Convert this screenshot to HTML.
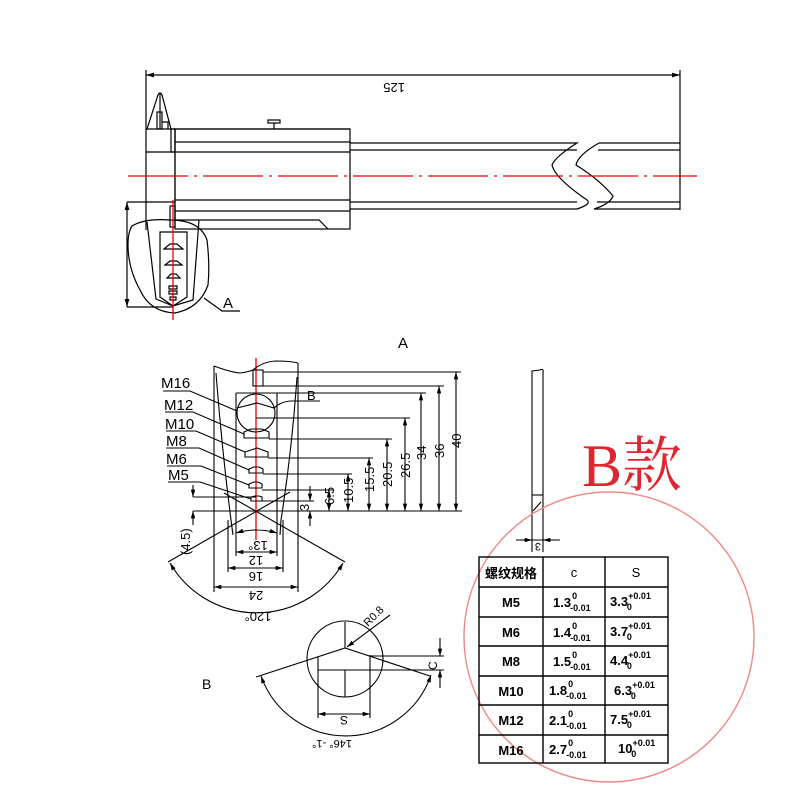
<!DOCTYPE html>
<html><head><meta charset="utf-8"><style>
html,body{margin:0;padding:0;background:#fff;width:800px;height:800px;overflow:hidden}
svg{display:block}
text{font-family:"Liberation Sans","Noto Sans CJK SC",sans-serif;fill:#000}
</style></head><body>
<svg width="800" height="800" viewBox="0 0 800 800" xmlns="http://www.w3.org/2000/svg">
<defs>
<marker id="ar" viewBox="0 0 10 6" refX="10" refY="3" markerWidth="8" markerHeight="4" orient="auto-start-reverse"><path d="M0,0L10,3L0,6z" fill="#000"/></marker>
</defs>
<g stroke="#000" stroke-width="1.2" fill="none">
<line x1="146" y1="75" x2="680" y2="75" marker-start="url(#ar)" marker-end="url(#ar)"/>
<line x1="146" y1="70" x2="146" y2="230"/>
<line x1="680" y1="70" x2="680" y2="210"/>
<path d="M147,129 L158,95 Q160,91 162,95 L171,129"/>
<line x1="160" y1="93" x2="160" y2="129"/>
<rect x="157" y="112" width="5" height="17"/>
<path d="M162,122 L168,122 L168,129"/>
<rect x="171" y="129" width="4" height="23"/>
<line x1="146" y1="129" x2="350" y2="129"/>
<line x1="146" y1="152" x2="175" y2="152"/>
<line x1="175" y1="129" x2="175" y2="220"/>
<rect x="175" y="129" width="175" height="100" fill="none"/>
<line x1="175" y1="142" x2="350" y2="142"/>
<line x1="175" y1="152" x2="350" y2="152"/>
<line x1="175" y1="200" x2="350" y2="200"/>
<line x1="175" y1="211" x2="350" y2="211"/>
<path d="M175,220 L319,220 L328,229"/>
<rect x="268" y="120" width="12" height="3"/>
<line x1="274" y1="123" x2="274" y2="129"/>
<path d="M350,143 L577,143 Q555,157 552,165 Q555,178 587,200 Q592,204 577,209 L350,209"/>
<line x1="350" y1="150" x2="577" y2="150"/>
<line x1="350" y1="202" x2="577" y2="202"/>
<path d="M599,143 L680,143 M680,209 L594,209 Q610,204 613,196 Q600,180 576,165 Q578,155 599,143"/>
<line x1="598" y1="150" x2="680" y2="150"/>
<line x1="597" y1="202" x2="680" y2="202"/>
<rect x="170" y="206" width="5" height="21"/>
<line x1="127" y1="202" x2="175" y2="202"/>
<line x1="127" y1="307" x2="173" y2="307"/>
<line x1="127" y1="202" x2="127" y2="307" marker-start="url(#ar)" marker-end="url(#ar)"/>
<path d="M147,222 L156,299 L173,306 L193,300 L199,220"/>
<path d="M160,232 L187,232 L187,297 L173,306 L160,297 Z"/>
<path d="M132,226 Q145,218 170,220 Q200,220 207,240 Q210,265 208,285 Q200,308 175,313 Q150,312 140,290 Q128,268 128,245 Q128,232 132,226 Z"/>
<path d="M204,298 L222,311 L240,311"/>
<path d="M164,249 L170,244 L177,244 L183,249 Z M165,265 L170,261 L177,261 L182,265 Z M167,278 L171,274 L176,274 L180,278 Z M169,286 h8 v3 h-8 z M169,291 h8 v3 h-8 z M170,297 h6 v3 h-6 z"/>
</g>
<g stroke="#e00" stroke-width="1.3" fill="none">
<line x1="128" y1="176" x2="697" y2="176" stroke-dasharray="60,6,3,6"/>
<line x1="173" y1="200" x2="173" y2="320"/>
<line x1="256" y1="358" x2="256" y2="540"/>
</g>
<text x="405" y="93" font-size="13" transform="rotate(180 405 88)">125</text>
<text x="223" y="308" font-size="15">A</text>
<text x="398" y="348" font-size="15">A</text>
<text x="202" y="689" font-size="14">B</text>

<g stroke="#000" stroke-width="1.1" fill="none">
<line x1="214" y1="366" x2="214" y2="592"/>
<line x1="298" y1="363" x2="298" y2="592"/>
<path d="M214,366 Q230,372 240,373 Q248,372 253,370 Q262,362 275,361 Q290,361 298,363"/>
<path d="M216,373 Q222,450 231,520 L233,535"/>
<path d="M297,377 Q292,450 281,520 L280,535"/>
<rect x="253" y="370" width="10" height="16"/>
<line x1="236" y1="393" x2="236" y2="556"/>
<line x1="277" y1="393" x2="277" y2="556"/>
<line x1="228" y1="520" x2="228" y2="572"/>
<line x1="283" y1="520" x2="283" y2="572"/>
<circle cx="256" cy="413" r="19"/>
<path d="M237,408 L257,403 L274,408 Q280,402 290,401 L320,401"/>
<path d="M244,438 L244,432 L251,429 L262,429 L269,432 L269,438 Z"/>
<path d="M245,457 L245,452 L257,448 L268,452 L268,457 Z"/>
<path d="M249,473 L249,469 L254,467 L259,467 L263,469 L263,473 Z"/>
<path d="M249,488 L249,484 L254,482 L258,482 L262,484 L262,488 Z"/>
<path d="M251,501 L251,497 L255,496 L259,496 L262,497 L262,501 Z"/>
<line x1="263" y1="372" x2="461" y2="372"/><line x1="456" y1="372" x2="456" y2="511" marker-start="url(#ar)" marker-end="url(#ar)"/>
<line x1="263" y1="386" x2="444" y2="386"/><line x1="439" y1="386" x2="439" y2="511" marker-start="url(#ar)" marker-end="url(#ar)"/>
<line x1="236" y1="393" x2="426" y2="393"/><line x1="421" y1="393" x2="421" y2="511" marker-start="url(#ar)" marker-end="url(#ar)"/>
<line x1="256" y1="418" x2="410" y2="418"/><line x1="405" y1="418" x2="405" y2="511" marker-start="url(#ar)" marker-end="url(#ar)"/>
<line x1="269" y1="439" x2="392" y2="439"/><line x1="387" y1="439" x2="387" y2="511" marker-start="url(#ar)" marker-end="url(#ar)"/>
<line x1="268" y1="458" x2="373" y2="458"/><line x1="369" y1="458" x2="369" y2="511" marker-start="url(#ar)" marker-end="url(#ar)"/>
<line x1="263" y1="474" x2="352" y2="474"/><line x1="348" y1="474" x2="348" y2="511" marker-start="url(#ar)" marker-end="url(#ar)"/>
<line x1="262" y1="490" x2="333" y2="490"/><line x1="329" y1="490" x2="329" y2="511" marker-start="url(#ar)" marker-end="url(#ar)"/>
<line x1="262" y1="501" x2="314" y2="501"/>
<line x1="310" y1="486" x2="310" y2="501" marker-end="url(#ar)"/>
<line x1="310" y1="526" x2="310" y2="511" marker-end="url(#ar)"/>
<line x1="193" y1="511" x2="462" y2="511"/>
<line x1="193" y1="497" x2="256" y2="497"/>
<line x1="193" y1="485" x2="193" y2="497" marker-end="url(#ar)"/>
<line x1="193" y1="525" x2="193" y2="511" marker-end="url(#ar)"/>
<line x1="168" y1="562" x2="290" y2="492"/>
<line x1="345" y1="562" x2="224" y2="493"/>
<path d="M170,563 A100,100 0 0 0 343,563" marker-start="url(#ar)" marker-end="url(#ar)"/>
<path d="M236,533 Q256,527 277,533" marker-start="url(#ar)" marker-end="url(#ar)"/>
<line x1="236" y1="552" x2="277" y2="552" marker-start="url(#ar)" marker-end="url(#ar)"/>
<line x1="228" y1="568" x2="283" y2="568" marker-start="url(#ar)" marker-end="url(#ar)"/>
<line x1="214" y1="587" x2="298" y2="587" marker-start="url(#ar)" marker-end="url(#ar)"/>
<path d="M163,391 L190,391 L237,411"/>
<path d="M165,412 L193,412 L244,434"/>
<path d="M166,431 L196,431 L245,452"/>
<path d="M166,448 L199,448 L249,470"/>
<path d="M167,466 L201,466 L249,485"/>
<path d="M168,482 L200,482 L251,499"/>
</g>
<g font-size="15">
<text x="161" y="388">M16</text><text x="164" y="410">M12</text><text x="165" y="429">M10</text>
<text x="166" y="446">M8</text><text x="166" y="464">M6</text><text x="168" y="480">M5</text>
<text x="307" y="400" font-size="13">B</text>
</g>
<g font-size="13">
<text transform="translate(461,448) rotate(-90)">40</text>
<text transform="translate(444,458) rotate(-90)">36</text>
<text transform="translate(426,460) rotate(-90)">34</text>
<text transform="translate(410,478) rotate(-90)">26.5</text>
<text transform="translate(392,487) rotate(-90)">20.5</text>
<text transform="translate(374,492) rotate(-90)">15.5</text>
<text transform="translate(353,503) rotate(-90)">10.5</text>
<text transform="translate(334,505) rotate(-90)">6.5</text>
<text transform="translate(309,511) rotate(-90)">3</text>
<text transform="translate(190,555) rotate(-90)">(4.5)</text>
<text transform="translate(258,541) rotate(180)" text-anchor="middle">13°</text>
<text transform="translate(256,556) rotate(180)" text-anchor="middle">12</text>
<text transform="translate(256,572) rotate(180)" text-anchor="middle">16</text>
<text transform="translate(256,591) rotate(180)" text-anchor="middle">24</text>
<text transform="translate(258,612) rotate(180)" text-anchor="middle">120°</text>
</g>

<g stroke="#000" stroke-width="1.1" fill="none">
<circle cx="345" cy="659" r="38"/>
<line x1="345" y1="622" x2="345" y2="648"/>
<line x1="345" y1="670" x2="345" y2="697"/>
<path d="M256,677 L345,648 L430,676"/>
<line x1="318" y1="657" x2="318" y2="718"/>
<line x1="370" y1="655" x2="370" y2="718"/>
<line x1="318" y1="670" x2="444" y2="670"/>
<line x1="370" y1="656" x2="444" y2="656"/>
<line x1="318" y1="714" x2="370" y2="714" marker-start="url(#ar)" marker-end="url(#ar)"/>
<line x1="440" y1="638" x2="440" y2="656" marker-end="url(#ar)"/>
<line x1="440" y1="688" x2="440" y2="670" marker-end="url(#ar)"/>
<line x1="390" y1="615" x2="347" y2="647" marker-end="url(#ar)"/>
<path d="M261,676 A90,90 0 0 0 431,675" marker-start="url(#ar)" marker-end="url(#ar)"/>
</g>
<text transform="translate(344,716) rotate(180)" font-size="12" text-anchor="middle">S</text>
<text transform="translate(437,670) rotate(-90)" font-size="12">C</text>
<text transform="translate(368,627) rotate(-45)" font-size="11">R0.8</text>
<text transform="translate(352,740) rotate(180)" font-size="11">146° -1°</text>

<g stroke="#000" stroke-width="1.1" fill="none">
<path d="M532,540 L532,371 L540,370 Q544,368 543,373 L543,540"/>
<line x1="532" y1="495" x2="543" y2="495"/>
<line x1="533" y1="511" x2="541" y2="502"/>
<line x1="516" y1="540" x2="560" y2="540"/>
<line x1="520" y1="540" x2="532" y2="540" marker-end="url(#ar)"/>
<line x1="555" y1="540" x2="543" y2="540" marker-end="url(#ar)"/>
<line x1="532" y1="540" x2="532" y2="552"/><line x1="543" y1="540" x2="543" y2="552"/>
</g>
<text transform="translate(541,543) rotate(180)" font-size="11">3</text>

<text x="582" y="486" font-size="60" style="fill:#e0252f;font-family:'Liberation Serif','Noto Serif CJK SC',serif">B款</text>
<circle cx="609" cy="637" r="145" fill="none" stroke="#e88" stroke-width="1.4"/>

<g stroke="#000" stroke-width="1.4" fill="none">
<rect x="479" y="557" width="189" height="206"/>
<line x1="543" y1="557" x2="543" y2="763"/>
<line x1="605" y1="557" x2="605" y2="763"/>
<line x1="479" y1="587" x2="668" y2="587"/>
<line x1="479" y1="617" x2="668" y2="617"/>
<line x1="479" y1="646" x2="668" y2="646"/>
<line x1="479" y1="676" x2="668" y2="676"/>
<line x1="479" y1="705" x2="668" y2="705"/>
<line x1="479" y1="735" x2="668" y2="735"/>
</g>
<g font-size="13" font-weight="bold" style="font-family:'Liberation Serif','Noto Serif CJK SC',serif">
<text x="511" y="578" text-anchor="middle">螺纹规格</text>
<text x="574" y="577" text-anchor="middle" font-weight="normal">c</text>
<text x="636" y="577" text-anchor="middle" font-weight="normal">S</text>
<text x="511" y="607" text-anchor="middle">M5</text>
<text x="511" y="637" text-anchor="middle">M6</text>
<text x="511" y="666" text-anchor="middle">M8</text>
<text x="511" y="696" text-anchor="middle">M10</text>
<text x="511" y="725" text-anchor="middle">M12</text>
<text x="511" y="755" text-anchor="middle">M16</text>
</g>
<g font-size="13" font-weight="bold" style="font-family:'Liberation Serif',serif">
<text x="553" y="607">1.3<tspan font-size="9" dy="-8" dx="1">0</tspan><tspan font-size="9" dy="12" dx="-7">-0.01</tspan></text>
<text x="553" y="637">1.4<tspan font-size="9" dy="-8" dx="1">0</tspan><tspan font-size="9" dy="12" dx="-7">-0.01</tspan></text>
<text x="553" y="666">1.5<tspan font-size="9" dy="-8" dx="1">0</tspan><tspan font-size="9" dy="12" dx="-7">-0.01</tspan></text>
<text x="549" y="695">1.8<tspan font-size="9" dy="-8" dx="1">0</tspan><tspan font-size="9" dy="12" dx="-7">-0.01</tspan></text>
<text x="549" y="725">2.1<tspan font-size="9" dy="-8" dx="1">0</tspan><tspan font-size="9" dy="12" dx="-7">-0.01</tspan></text>
<text x="549" y="754">2.7<tspan font-size="9" dy="-8" dx="1">0</tspan><tspan font-size="9" dy="12" dx="-7">-0.01</tspan></text>
<text x="610" y="606">3.3<tspan font-size="9" dy="-7">+0.01</tspan><tspan font-size="9" dy="11" dx="-24">0</tspan></text>
<text x="610" y="636">3.7<tspan font-size="9" dy="-7">+0.01</tspan><tspan font-size="9" dy="11" dx="-24">0</tspan></text>
<text x="610" y="665">4.4<tspan font-size="9" dy="-7">+0.01</tspan><tspan font-size="9" dy="11" dx="-24">0</tspan></text>
<text x="614" y="695">6.3<tspan font-size="9" dy="-7">+0.01</tspan><tspan font-size="9" dy="11" dx="-24">0</tspan></text>
<text x="610" y="724">7.5<tspan font-size="9" dy="-7">+0.01</tspan><tspan font-size="9" dy="11" dx="-24">0</tspan></text>
<text x="618" y="753">10<tspan font-size="9" dy="-7">+0.01</tspan><tspan font-size="9" dy="11" dx="-24">0</tspan></text>
</g>
</svg>
</body></html>
